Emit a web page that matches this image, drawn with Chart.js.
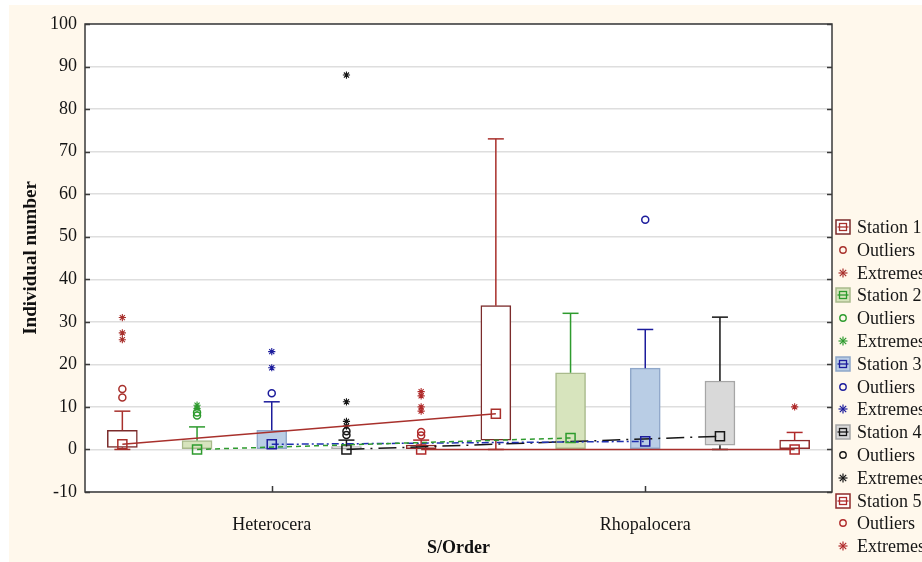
<!DOCTYPE html>
<html lang="en">
<head>
<meta charset="UTF-8">
<title>Individual number by S/Order</title>
<style>
  html, body { margin: 0; padding: 0; background: #fff; overflow: hidden; }
  #wrap { position: relative; width: 922px; height: 562px; overflow: hidden; }
  #legend { position: absolute; left: 0; top: 0; width: 922px; height: 562px; pointer-events: none;
            font-family: 'Liberation Serif', 'Times New Roman', serif; font-size: 18px; color: #151515; }
  .row { position: absolute; left: 835px; height: 22px; line-height: 22px; white-space: nowrap; }
  .row svg { position: absolute; left: 0; top: 3px; }
  .row span { position: absolute; left: 22px; top: 0; }
</style>
</head>
<body>
<div id="wrap">
  <canvas id="boxChart" width="922" height="562"></canvas>
  <div id="legend"></div>
</div>
<script src="https://cdn.jsdelivr.net/npm/chart.js"></script>
<script>
// ---- data ----
const categories = ['Heterocera', 'Rhopalocera'];
const stations = ['Station 1', 'Station 2', 'Station 3', 'Station 4', 'Station 5'];
// one pair per station: [Heterocera, Rhopalocera]
const medians   = [[1.2, 8.4], [0, 2.7], [1.2, 1.9], [0, 3.1], [0, 0]];
const boxLow    = [[0.5, 2.2], [0, 0], [0, 0], [0, 1], [0, 0]];
const boxHigh   = [[4.5, 33.8], [2.1, 18], [4.5, 19.1], [0.7, 16.1], [1, 2.2]];
const whiskLow  = [[0, 0], [0, 0], [0, 0], [0, 0], [0, 0]];
const whiskHigh = [[9, 73], [5.3, 32], [11.2, 28.2], [2.2, 31.1], [2.2, 4]];
const outliers  = [[[12.2, 14.2], []], [[8, 8.7], []], [[13.2], [54]], [[3.4, 4.3], []], [[3.3, 4.1], []]];
const extremes  = [[[25.8, 27.4, 31], []], [[9.6, 10.4], []], [[19.2, 23], []], [[5.5, 6.6, 11.2, 88], []], [[9, 10, 12.6, 13.6], [10]]];
const yMin = -10, yMax = 100, yStep = 10;

// ---- styles ----
const boxFill   = ['#ffffff', '#d7e4bd', '#b9cde5', '#d9d9d9', '#ffffff'];
const boxEdge   = ['#7b2b2b', '#a9ba8c', '#8fa7c9', '#a6a6a6', '#8e2a2a'];
const markColor = ['#a8302c', '#2e9b2e', '#1c1c9c', '#161616', '#b02a2a'];
const lineColor = ['#a8302c', '#2e9b2e', '#2030b0', '#161616', '#a8302c'];
const lineDash  = [[], [5, 4], [7, 3, 2, 3], [18, 6, 2, 6], []];
const serif = "'Liberation Serif', 'Times New Roman', serif";

// slot on the x axis: 5 stations per category
function slot(s, c) { return c * stations.length + s + 0.5; }

let datasets = [];
stations.forEach(function (name, s) {
    let boxes = [], whisk = [], caps = [], outs = [], exts = [], meds = [];
    categories.forEach(function (cat, c) {
        let x = slot(s, c);
        boxes.push({ x: x, y: [boxLow[s][c], boxHigh[s][c]] });
        if (whiskHigh[s][c] > boxHigh[s][c]) {
            whisk.push({ x: x, y: boxHigh[s][c] }, { x: x, y: whiskHigh[s][c] }, { x: x, y: null });
            caps.push({ x: x, y: whiskHigh[s][c] });
        }
        if (whiskLow[s][c] < boxLow[s][c]) {
            whisk.push({ x: x, y: boxLow[s][c] }, { x: x, y: whiskLow[s][c] }, { x: x, y: null });
            caps.push({ x: x, y: whiskLow[s][c] });
        }
        outliers[s][c].forEach(v => outs.push({ x: x, y: v }));
        extremes[s][c].forEach(v => exts.push({ x: x, y: v }));
        meds.push({ x: x, y: medians[s][c] });
    });

    datasets.push({
        type: 'bar', label: name, data: boxes, grouped: false, barThickness: 30,
        backgroundColor: boxFill[s], borderColor: boxEdge[s], borderWidth: 1.5,
        borderSkipped: false, order: 6
    });
    datasets.push({
        type: 'line', label: name + ' whiskers', data: whisk, spanGaps: false,
        borderColor: markColor[s], borderWidth: 1.5, pointRadius: 0, order: 5
    });
    datasets.push({
        type: 'line', label: name + ' caps', data: caps, showLine: false,
        pointStyle: 'line', pointRadius: 8, pointBorderColor: markColor[s], pointBorderWidth: 1.5, order: 4
    });
    datasets.push({
        type: 'line', label: 'Outliers', data: outs, showLine: false,
        pointStyle: 'circle', pointRadius: 3.5, pointBorderColor: markColor[s],
        pointBackgroundColor: 'rgba(0,0,0,0)', pointBorderWidth: 1.5, order: 3
    });
    datasets.push({
        type: 'line', label: 'Extremes', data: exts, showLine: false,
        pointStyle: 'star', pointRadius: 3.6, pointBorderColor: markColor[s], pointBorderWidth: 1.1, order: 3
    });
    datasets.push({
        type: 'line', label: name + ' median', data: meds,
        borderColor: lineColor[s], borderWidth: 1.5, borderDash: lineDash[s],
        pointStyle: 'rect', pointRadius: 6.4, pointBorderColor: markColor[s],
        pointBackgroundColor: 'rgba(0,0,0,0)', pointBorderWidth: 1.5, order: 1
    });
});

// background, frame and inward ticks like the original
const framePlugin = {
    id: 'frame',
    beforeDraw(chart) {
        const ctx = chart.ctx, a = chart.chartArea;
        ctx.save();
        ctx.fillStyle = '#ffffff';
        ctx.fillRect(0, 0, chart.width, chart.height);
        ctx.fillStyle = '#fff8ec';
        ctx.fillRect(9, 5, chart.width - 9, chart.height - 5);
        ctx.fillStyle = '#ffffff';
        ctx.fillRect(a.left, a.top, a.right - a.left, a.bottom - a.top);
        ctx.restore();
    },
    afterDraw(chart) {
        const ctx = chart.ctx, a = chart.chartArea;
        const ys = chart.scales.y, xs = chart.scales.x;
        ctx.save();
        ctx.strokeStyle = '#3a3a3a';
        ctx.lineWidth = 1.5;
        ctx.strokeRect(a.left, a.top, a.right - a.left, a.bottom - a.top);
        ctx.beginPath();
        for (let v = yMin; v <= yMax; v += yStep) {
            let py = Math.round(ys.getPixelForValue(v)) + 0.5;
            ctx.moveTo(a.left, py); ctx.lineTo(a.left + 5, py);
            ctx.moveTo(a.right, py); ctx.lineTo(a.right - 5, py);
        }
        categories.forEach(function (cat, c) {
            let px = Math.round(xs.getPixelForValue(slot(2, c))) + 0.5;
            ctx.moveTo(px, a.bottom); ctx.lineTo(px, a.bottom - 6);
        });
        ctx.stroke();
        ctx.restore();
    }
};

var ctx = document.getElementById('boxChart').getContext('2d');
var myChart = new Chart(ctx, {
    type: 'bar',
    data: { datasets: datasets },
    plugins: [framePlugin],
    options: {
        responsive: false,
        animation: false,
        events: [],
        layout: { padding: { top: 24, right: 90, left: 0, bottom: 0 } },
        plugins: { legend: { display: false }, tooltip: { enabled: false } },
        scales: {
            x: {
                type: 'linear', min: 0, max: categories.length * stations.length,
                offset: false,
                grid: { display: false, offset: false },
                border: { display: false },
                afterBuildTicks: function (scale) {
                    scale.ticks = categories.map((c, i) => ({ value: slot(2, i) }));
                },
                afterFit: function (scale) { scale.height = 70; },
                ticks: {
                    padding: 14, color: '#151515', font: { family: serif, size: 18 },
                    autoSkip: false, maxRotation: 0,
                    callback: function (value) {
                        let i = categories.findIndex((c, k) => Math.abs(slot(2, k) - value) < 0.01);
                        return i >= 0 ? categories[i] : '';
                    }
                },
                title: {
                    display: true, text: 'S/Order', color: '#111',
                    font: { family: serif, size: 18, weight: 'bold' }, padding: { top: 0, bottom: 3 }
                }
            },
            y: {
                min: yMin, max: yMax,
                grid: { color: '#dedede', lineWidth: 1.5, drawTicks: false },
                border: { display: false },
                afterFit: function (scale) { scale.width = 85; },
                ticks: { stepSize: yStep, padding: 8, color: '#151515', font: { family: serif, size: 18 } },
                title: {
                    display: true, text: 'Individual number', color: '#111',
                    font: { family: serif, size: 19, weight: 'bold' }, padding: { top: 20, bottom: 0 }
                }
            }
        }
    }
});

// legend on the right, as in the original
(function buildLegend() {
    const box = document.getElementById('legend');
    const svgNS = 'http://www.w3.org/2000/svg';
    let rows = [];
    stations.forEach(function (name, s) {
        rows.push({ kind: 'box', text: name, s: s });
        rows.push({ kind: 'out', text: 'Outliers', s: s });
        rows.push({ kind: 'ext', text: 'Extremes', s: s });
    });
    rows.forEach(function (r, i) {
        let div = document.createElement('div');
        div.className = 'row';
        div.style.top = (227 + i * 22.8 - 11) + 'px';
        let svg = document.createElementNS(svgNS, 'svg');
        svg.setAttribute('width', 16); svg.setAttribute('height', 16);
        let col = markColor[r.s];
        if (r.kind === 'box') {
            svg.innerHTML =
                '<rect x="1" y="1" width="14" height="14" fill="' + boxFill[r.s] + '" stroke="' + boxEdge[r.s] + '" stroke-width="1.5"/>' +
                '<rect x="4.5" y="4.5" width="7" height="7" fill="none" stroke="' + col + '" stroke-width="1.3"/>' +
                '<line x1="2.5" y1="8" x2="13.5" y2="8" stroke="' + col + '" stroke-width="1.3"/>';
        } else if (r.kind === 'out') {
            svg.innerHTML = '<circle cx="8" cy="8" r="3.2" fill="none" stroke="' + col + '" stroke-width="1.4"/>';
        } else {
            svg.innerHTML =
                '<g stroke="' + col + '" stroke-width="1.2">' +
                '<line x1="8" y1="3.5" x2="8" y2="12.5"/><line x1="3.5" y1="8" x2="12.5" y2="8"/>' +
                '<line x1="4.8" y1="4.8" x2="11.2" y2="11.2"/><line x1="11.2" y1="4.8" x2="4.8" y2="11.2"/></g>';
        }
        let span = document.createElement('span');
        span.textContent = r.text;
        div.appendChild(svg);
        div.appendChild(span);
        box.appendChild(div);
    });
})();
</script>
</body>
</html>
